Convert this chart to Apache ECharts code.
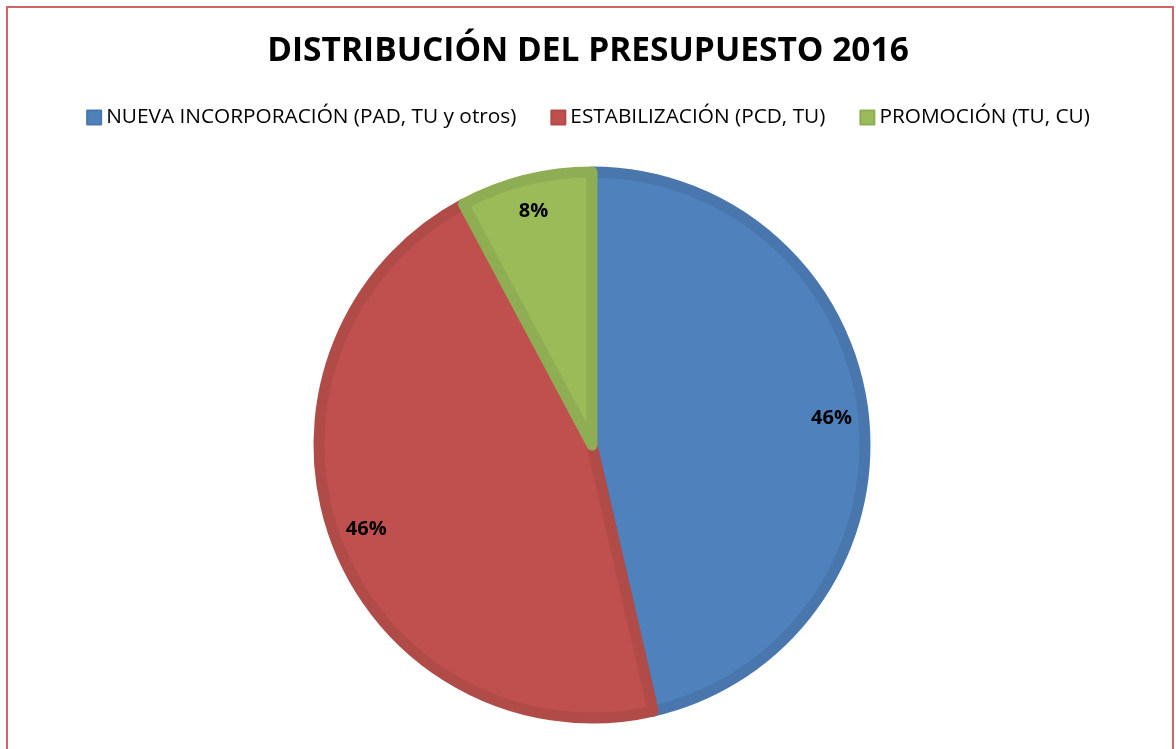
<!DOCTYPE html>
<html>
<head>
<meta charset="utf-8">
<script src="https://cdn.jsdelivr.net/npm/echarts@6/dist/echarts.min.js"></script>
<style>
  html, body { margin: 0; padding: 0; background: #fff; }
  #main { width: 1176px; height: 749px; }
</style>
</head>
<body>
<div id="main"></div>
<script>
var categories = [
  "NUEVA INCORPORACIÓN (PAD, TU y otros)",
  "ESTABILIZACIÓN (PCD, TU)",
  "PROMOCIÓN (TU, CU)"
];
var values = [46.4, 45.8, 7.8];
var fillColors = ["#4f81bd", "#c0504d", "#9bbb59"];
var edgeColors = ["#4977ad", "#b04b48", "#8fad53"];

var myChart = echarts.init(document.getElementById("main"));

var pieData = categories.map(function (name, i) {
  return {
    name: name,
    value: values[i],
    itemStyle: { color: fillColors[i], borderColor: edgeColors[i] }
  };
});

var option = {
  backgroundColor: "#fff",
  title: {
    text: "DISTRIBUCIÓN DEL PRESUPUESTO 2016",
    left: "center",
    top: 29,
    textStyle: {
      color: "#000",
      fontFamily: "Open Sans",
      fontWeight: "bold",
      fontSize: 33.5
    }
  },
  legend: {
    top: 102,
    left: "center",
    itemWidth: 14,
    itemHeight: 14,
    itemGap: 34,
    icon: "rect",
    textStyle: {
      color: "#000",
      fontFamily: "Open Sans",
      fontSize: 20.8
    },
    data: categories
  },
  graphic: [
    {
      type: "rect",
      shape: { x: 7, y: 7, width: 1166, height: 780 },
      style: { fill: "none", stroke: "#d06566", lineWidth: 2 },
      silent: true
    }
  ],
  series: [
    {
      type: "pie",
      center: [592, 445],
      radius: 273,
      startAngle: 90,
      clockwise: true,
      silent: true,
      itemStyle: { borderWidth: 11 },
      label: { show: false },
      labelLine: { show: false },
      data: pieData
    },
    {
      // label ring: only carries the percent labels
      type: "pie",
      center: [592, 445],
      radius: [198, 278],
      startAngle: 90,
      clockwise: true,
      silent: true,
      legendHoverLink: false,
      itemStyle: { color: "rgba(0,0,0,0)", borderWidth: 0 },
      label: {
        show: true,
        position: "inside",
        formatter: function (p) { return Math.round(p.value) + "%"; },
        color: "#000",
        fontFamily: "Open Sans",
        fontWeight: "bold",
        fontSize: 20
      },
      labelLine: { show: false },
      data: categories.map(function (name, i) {
        return { name: name, value: values[i] };
      })
    }
  ]
};

myChart.setOption(option);
</script>
</body>
</html>
